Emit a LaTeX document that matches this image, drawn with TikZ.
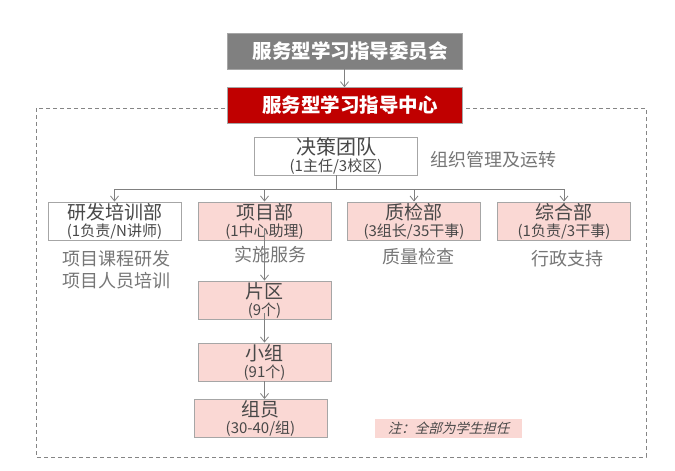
\documentclass[tikz,border=0pt]{standalone}
\usepackage{fontspec}
\setmainfont{Noto Sans CJK SC}[AutoFakeSlant=0.25]
\usepackage{tikz}
\usetikzlibrary{arrows.meta,positioning,calc}
\definecolor{boxpink}{RGB}{250,216,212}
\definecolor{boxred}{RGB}{192,0,0}
\definecolor{boxgray}{RGB}{128,128,128}
\definecolor{edgegray}{RGB}{166,166,166}
\definecolor{txtdark}{RGB}{72,72,72}
\definecolor{txtlight}{RGB}{118,118,118}
\newcommand{\sub}[1]{{\fontsize{15}{15}\selectfont #1}}

\begin{document}
\begin{tikzpicture}[x=1pt,y=-1pt,
    head/.style={draw,inner sep=0pt,minimum width=235pt,minimum height=36pt,
      text=white,font=\fontsize{19.5}{20}\selectfont\bfseries},
    unit/.style={draw=edgegray,line width=0.9pt,fill=boxpink,inner sep=0pt,
      minimum width=133pt,minimum height=38pt,align=center,text=txtdark,
      font=\fontsize{19}{17}\selectfont},
    note/.style={text=txtlight,align=center,font=\fontsize{18}{22}\selectfont},
    link/.style={draw=boxgray,line width=0.8pt},
    arr/.style={link,-{Straight Barb[length=5pt,width=8pt]}}]
  \useasboundingbox (0,0) rectangle (675,471);
  \draw[edgegray!80!black,line width=0.8pt,dash pattern=on 4pt off 3pt] (36,108) rectangle (646,457);
  \node[head,fill=boxgray,draw=edgegray] (wyh) at (344.5,51) {\hspace{11pt}服务型学习指导委员会};
  \node[head,fill=boxred,draw=edgegray] (zx) at (344.5,105.5) {\hspace{11pt}服务型学习指导中心};
  \draw[arr] (wyh) -- (zx);
  \node[unit,fill=white,minimum width=163pt,minimum height=38pt,font=\fontsize{20}{17}\selectfont] (jc) at (336,156) {决策团队\\\sub{(1主任/3校区)}};
  \node[note,anchor=west] (jcs) at (427,160) {组织管理及运转};
  \node[unit,fill=white] (yf) at (114.5,221) {研发培训部\\\sub{(1负责/N讲师)}};
  \node[unit] (xm) at (264.5,221) {项目部\\\sub{(1中心助理)}};
  \node[unit] (zj) at (414,221) {质检部\\\sub{(3组长/35干事)}};
  \node[unit] (zh) at (564,221) {综合部\\\sub{(1负责/3干事)}};
  \node[note] (yfs) at (116,270) {项目课程研发\\项目人员培训};
  \node[note] (xms) at (270,255) {实施服务};
  \node[note] (zjs) at (418,257) {质量检查};
  \node[note] (zhs) at (567,259) {行政支持};
  \node[unit] (pq) at (264.5,300) {片区\\\sub{(9个)}};
  \node[unit] (xz) at (264.5,362) {小组\\\sub{(91个)}};
  \node[unit] (zy) at (260.5,418.5) {组员\\\sub{(30-40/组)}};
  \node[fill=boxpink,inner sep=0pt,minimum width=147pt,minimum height=19pt,
        text=txtdark,font=\fontsize{13.5}{14}\selectfont\itshape] (zhu) at (448.5,428) {注：全部为学生担任};
  % branches
  \coordinate (fork) at ($(jc.south)+(0,14)$);
  \draw[link] (jc.south) -- (fork);
  \draw[link] (yf.north |- fork) -- (zh.north |- fork);
  \foreach \n in {yf,xm,zj,zh}
    \draw[arr] (\n.north |- fork) -- (\n.north);
  \draw[arr,shorten <=-12pt] (xm.south) -- (pq.north);
  \draw[arr,shorten <=-6pt] (pq.south) -- (xz.north);
  \draw[arr] (xz.south) -- (xz.south |- zy.north);
\end{tikzpicture}
\end{document}
